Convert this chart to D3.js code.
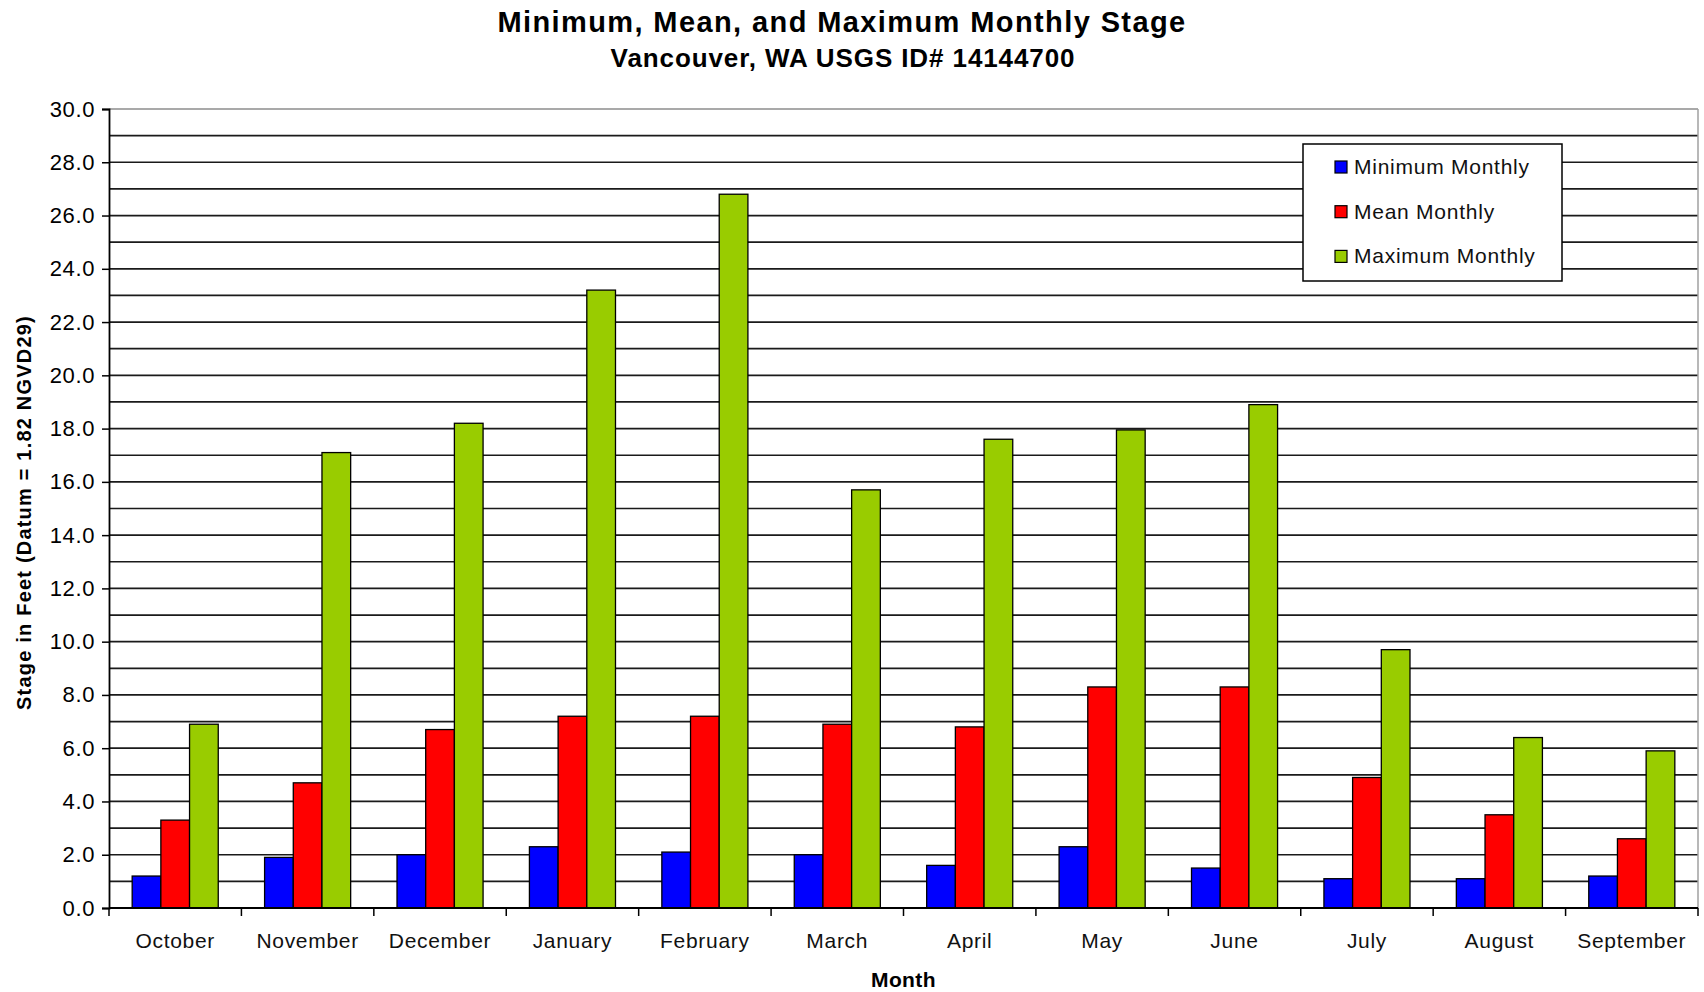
<!DOCTYPE html>
<html lang="en">
<head>
<meta charset="utf-8">
<title>Minimum, Mean, and Maximum Monthly Stage</title>
<script src="https://cdn.jsdelivr.net/npm/d3@7"></script>
<style>
  body { margin: 0; background: #fff; }
  text { font-family: "Liberation Sans", Arial, sans-serif; fill: #000; }
</style>
</head>
<body>
<script>

// Data (feet)
var months = ["October", "November", "December", "January", "February", "March",
              "April", "May", "June", "July", "August", "September"];
var minMonthly  = [1.2, 1.9, 2.0, 2.3, 2.1, 2.0, 1.6, 2.3, 1.5, 1.1, 1.1, 1.2];
var meanMonthly = [3.3, 4.7, 6.7, 7.2, 7.2, 6.9, 6.8, 8.3, 8.3, 4.9, 3.5, 2.6];
var maxMonthly  = [6.9, 17.1, 18.2, 23.2, 26.8, 15.7, 17.6, 17.95, 18.9, 9.7, 6.4, 5.9];
var seriesNames  = ["Minimum Monthly", "Mean Monthly", "Maximum Monthly"];
var seriesColors = ["#0000ff", "#ff0000", "#99cc00"];
var yTickValues  = [0, 2, 4, 6, 8, 10, 12, 14, 16, 18, 20, 22, 24, 26, 28, 30];

var w = 1704, h = 992;
var margin = {top: 109, right: 6, bottom: 84, left: 109};
var pw = w - margin.left - margin.right;
var ph = h - margin.top - margin.bottom;

var seriesValues = [minMonthly, meanMonthly, maxMonthly];
var rows = months.map(function(m, i) {
  return {month: m, values: seriesValues.map(function(s, j) { return {k: j, v: s[i]}; })};
});

var svg = d3.select("body").append("svg")
  .attr("width", w)
  .attr("height", h);

var x0 = d3.scaleBand().domain(months).range([0, pw])
  .paddingInner(0.35).paddingOuter(0.175);
var x1 = d3.scaleBand().domain([0, 1, 2]).range([0, x0.bandwidth()]);
var y = d3.scaleLinear().domain([0, 30]).range([ph, 0]);

var g = svg.append("g").attr("transform", "translate(" + margin.left + "," + margin.top + ")");

// gridlines every 1 foot
g.append("g").selectAll("line")
  .data(d3.range(1, 30))
  .enter().append("line")
  .attr("x1", 0).attr("x2", pw)
  .attr("y1", function(d) { return y(d); })
  .attr("y2", function(d) { return y(d); })
  .attr("stroke", "#1a1a1a")
  .attr("stroke-width", 1.7);

// plot border (top and right are grey)
g.append("line").attr("x1", 0).attr("x2", pw).attr("y1", 0).attr("y2", 0)
  .attr("stroke", "#8c8c8c").attr("stroke-width", 1.5);
g.append("line").attr("x1", pw).attr("x2", pw).attr("y1", 0).attr("y2", ph)
  .attr("stroke", "#a0a0a0").attr("stroke-width", 1.5);

// bars
g.append("g").selectAll("g")
  .data(rows)
  .enter().append("g")
  .attr("transform", function(d) { return "translate(" + x0(d.month) + ",0)"; })
  .selectAll("rect")
  .data(function(d) { return d.values; })
  .enter().append("rect")
  .attr("x", function(d) { return x1(d.k); })
  .attr("width", x1.bandwidth())
  .attr("y", function(d) { return y(d.v); })
  .attr("height", function(d) { return ph - y(d.v); })
  .attr("fill", function(d) { return seriesColors[d.k]; })
  .attr("stroke", "#000")
  .attr("stroke-width", 1.3);

// y axis
var yAxis = g.append("g")
  .call(d3.axisLeft(y).tickValues(yTickValues).tickSize(7).tickPadding(7)
    .tickFormat(d3.format(".1f")));
yAxis.select(".domain").attr("stroke", "#000").attr("stroke-width", 1.8);
yAxis.selectAll(".tick line").attr("stroke", "#000").attr("stroke-width", 1.5);
yAxis.selectAll(".tick text").attr("font-size", "22px").attr("fill", "#111")
  .attr("letter-spacing", "0.6px")
  .attr("font-family", "Liberation Sans, Arial, sans-serif");

// x axis: ticks at category boundaries
var xAxisG = g.append("g").attr("transform", "translate(0," + ph + ")");
xAxisG.append("line").attr("x1", 0).attr("x2", pw)
  .attr("stroke", "#000").attr("stroke-width", 1.8);
xAxisG.selectAll("line.sep")
  .data(d3.range(0, months.length + 1))
  .enter().append("line")
  .attr("class", "sep")
  .attr("x1", function(i) { return i * x0.step(); })
  .attr("x2", function(i) { return i * x0.step(); })
  .attr("y1", 0).attr("y2", 8)
  .attr("stroke", "#000").attr("stroke-width", 1.5);
xAxisG.selectAll("text")
  .data(months)
  .enter().append("text")
  .attr("x", function(d) { return x0(d) + x0.bandwidth() / 2; })
  .attr("y", 40)
  .attr("text-anchor", "middle")
  .attr("font-size", "21px")
  .attr("letter-spacing", "0.7px")
  .style("fill", "#111")
  .text(function(d) { return d; });

// titles
svg.append("text")
  .attr("x", 842).attr("y", 32)
  .attr("text-anchor", "middle")
  .attr("font-size", "29px").attr("font-weight", "bold")
  .attr("letter-spacing", "1.4px")
  .text("Minimum, Mean, and Maximum Monthly Stage");
svg.append("text")
  .attr("x", 843).attr("y", 67)
  .attr("text-anchor", "middle")
  .attr("font-size", "26px").attr("font-weight", "bold")
  .attr("letter-spacing", "0.9px")
  .text("Vancouver, WA USGS ID# 14144700");
svg.append("text")
  .attr("x", margin.left + pw / 2).attr("y", 987)
  .attr("text-anchor", "middle")
  .attr("font-size", "21px").attr("font-weight", "bold")
  .attr("letter-spacing", "0.4px")
  .text("Month");
svg.append("text")
  .attr("transform", "translate(31," + (margin.top + ph / 2 + 4) + ") rotate(-90)")
  .attr("text-anchor", "middle")
  .attr("font-size", "20px").attr("font-weight", "bold")
  .attr("letter-spacing", "1.2px")
  .text("Stage in Feet (Datum = 1.82 NGVD29)");

// legend
var legend = svg.append("g").attr("transform", "translate(1303,144)");
legend.append("rect")
  .attr("width", 259).attr("height", 137)
  .attr("fill", "#fff").attr("stroke", "#000").attr("stroke-width", 1.5);
var item = legend.selectAll("g.item")
  .data(seriesNames)
  .enter().append("g")
  .attr("class", "item")
  .attr("transform", function(d, i) { return "translate(32," + (23 + i * 44.7) + ")"; });
item.append("rect")
  .attr("x", 0).attr("y", -6).attr("width", 12).attr("height", 12)
  .attr("fill", function(d, i) { return seriesColors[i]; })
  .attr("stroke", "#000").attr("stroke-width", 1.2);
item.append("text")
  .attr("x", 19).attr("y", 7)
  .attr("font-size", "21px")
  .attr("letter-spacing", "0.75px")
  .style("fill", "#111")
  .text(function(d) { return d; });

</script>
</body>
</html>
